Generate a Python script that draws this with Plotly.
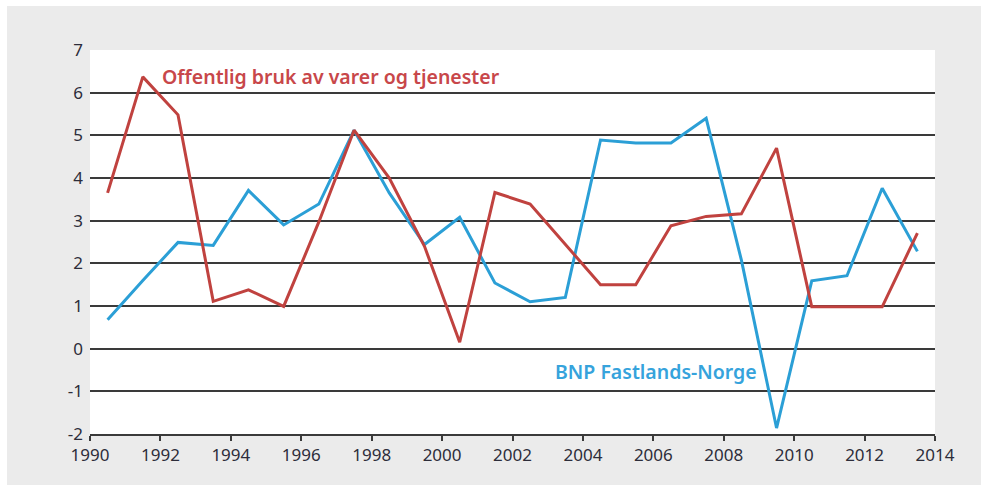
import plotly.graph_objects as go

years = [1990.5 + i for i in range(24)]
offentlig = [3.65, 6.37, 5.48, 1.11, 1.38, 0.99, 2.97, 5.12, 4.0, 2.4, 0.15, 3.66,
             3.39, 2.45, 1.5, 1.5, 2.88, 3.1, 3.16, 4.7, 0.98, 0.98, 0.98, 2.71]
bnp = [0.68, 1.6, 2.49, 2.42, 3.71, 2.9, 3.39, 5.12, 3.65, 2.44, 3.08, 1.54,
       1.1, 1.2, 4.89, 4.82, 4.82, 5.4, 2.08, -1.86, 1.59, 1.71, 3.76, 2.28]
x_ticks = list(range(1990, 2015, 2))
y_ticks = list(range(-2, 8))
y_labels = [str(v) for v in y_ticks]

RED = "#c0423f"
BLUE = "#2b9fd6"
GRID = "#3a3a3a"
BG = "#ebebeb"
TXT = "#2d2d3a"

fig = go.Figure()
fig.add_trace(go.Scatter(x=years, y=bnp, mode="lines", line=dict(color=BLUE, width=3),
                         name="BNP Fastlands-Norge", showlegend=False))
fig.add_trace(go.Scatter(x=years, y=offentlig, mode="lines", line=dict(color=RED, width=3),
                         name="Offentlig bruk av varer og tjenester", showlegend=False))

fig.add_annotation(x=1992.0, y=6.38, xanchor="left", yanchor="middle", showarrow=False,
                   text="Offentlig bruk av varer og tjenester",
                   font=dict(family="Noto Sans", size=19.5, color="#c8474a", weight=600))
fig.add_annotation(x=2003.15, y=-0.53, xanchor="left", yanchor="middle", showarrow=False,
                   text="BNP Fastlands-Norge",
                   font=dict(family="Noto Sans", size=19.5, color="#36a3dc", weight=600))

# white page edges around the grey panel
W, H = 981, 489
l, r, t, b = 90, 46, 50, 55
pw, ph = W - l - r, H - t - b
def px(xp):
    return (xp - l) / pw
def py(yp):
    return 1 - (yp - t) / ph
for x0, y0, x1, y1 in [(0, 0, 7, H), (0, 0, W, 6), (0, 485, W, H)]:
    fig.add_shape(type="rect", xref="paper", yref="paper", x0=px(x0), x1=px(x1),
                  y0=py(y1), y1=py(y0), fillcolor="white", line_width=0, layer="below")

fig.update_layout(
    width=W, height=H,
    margin=dict(l=l, r=r, t=t, b=b),
    paper_bgcolor=BG, plot_bgcolor="white",
    font=dict(family="Noto Sans", size=16, color=TXT),
    xaxis=dict(range=[1990, 2014], tickvals=x_ticks, ticks="outside", ticklen=5,
               tickcolor=GRID, tickwidth=1.5, showgrid=False, showline=True,
               linecolor=GRID, linewidth=1.5, zeroline=False,
               tickfont=dict(size=17, color=TXT)),
    yaxis=dict(range=[-2, 7], tickvals=y_ticks, ticktext=y_labels, showgrid=True,
               gridcolor=GRID, gridwidth=1.5, zeroline=False, showline=False, ticks="",
               ticklabelstandoff=6, tickfont=dict(size=17, color=TXT)),
)

fig.write_html("out.html", config={"displayModeBar": False},
               post_script="document.body.style.margin='0';document.body.style.padding='0';")
